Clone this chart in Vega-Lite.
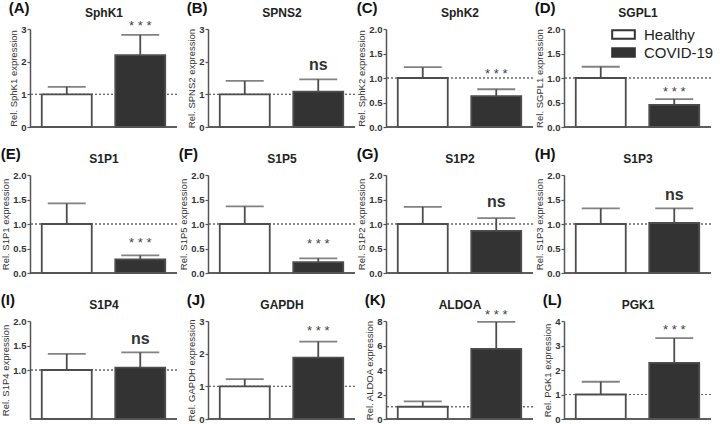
{
"$schema":"https://vega.github.io/schema/vega-lite/v6.json",
"padding":{"left":0,"right":0,"top":1,"bottom":0},
"data":{"values":[
{"panel":"A","group":"Healthy","mean":1,"upper":1.23,"stars":"","ns":""},
{"panel":"A","group":"COVID-19","mean":2.2,"upper":2.82,"stars":"* * *","ns":""},
{"panel":"B","group":"Healthy","mean":1,"upper":1.41,"stars":"","ns":""},
{"panel":"B","group":"COVID-19","mean":1.08,"upper":1.46,"stars":"","ns":"ns"},
{"panel":"C","group":"Healthy","mean":1,"upper":1.22,"stars":"","ns":""},
{"panel":"C","group":"COVID-19","mean":0.63,"upper":0.77,"stars":"* * *","ns":""},
{"panel":"D","group":"Healthy","mean":1,"upper":1.23,"stars":"","ns":""},
{"panel":"D","group":"COVID-19","mean":0.45,"upper":0.57,"stars":"* * *","ns":""},
{"panel":"E","group":"Healthy","mean":1,"upper":1.42,"stars":"","ns":""},
{"panel":"E","group":"COVID-19","mean":0.28,"upper":0.36,"stars":"* * *","ns":""},
{"panel":"F","group":"Healthy","mean":1,"upper":1.36,"stars":"","ns":""},
{"panel":"F","group":"COVID-19","mean":0.22,"upper":0.3,"stars":"* * *","ns":""},
{"panel":"G","group":"Healthy","mean":1,"upper":1.35,"stars":"","ns":""},
{"panel":"G","group":"COVID-19","mean":0.86,"upper":1.12,"stars":"","ns":"ns"},
{"panel":"H","group":"Healthy","mean":1,"upper":1.32,"stars":"","ns":""},
{"panel":"H","group":"COVID-19","mean":1.02,"upper":1.32,"stars":"","ns":"ns"},
{"panel":"I","group":"Healthy","mean":1,"upper":1.33,"stars":"","ns":""},
{"panel":"I","group":"COVID-19","mean":1.05,"upper":1.36,"stars":"","ns":"ns"},
{"panel":"J","group":"Healthy","mean":1,"upper":1.22,"stars":"","ns":""},
{"panel":"J","group":"COVID-19","mean":1.88,"upper":2.37,"stars":"* * *","ns":""},
{"panel":"K","group":"Healthy","mean":1,"upper":1.44,"stars":"","ns":""},
{"panel":"K","group":"COVID-19","mean":5.73,"upper":7.93,"stars":"* * *","ns":""},
{"panel":"L","group":"Healthy","mean":1,"upper":1.52,"stars":"","ns":""},
{"panel":"L","group":"COVID-19","mean":2.29,"upper":3.3,"stars":"* * *","ns":""}
]},
"columns":4,
"spacing":{"row":15,"column":0},
"resolve":{"legend":{"fill":"independent"}},
"concat":[
{"width":147,"height":98,"title":{"text":"(A)"},"transform":[{"filter":"datum.panel==='A'"}],"layer":[
{"mark":{"type":"rule","color":"#666","strokeDash":[2,2],"strokeWidth":1},"encoding":{"y":{"datum":1,"type":"quantitative","axis":{"title":"Rel. SphK1 expression","values":[0,1,2,3],"format":"d"}}}},
{"mark":{"type":"bar","stroke":"#4d4d4d","strokeWidth":1.8},"encoding":{"x":{"field":"group","type":"nominal","sort":["Healthy","COVID-19"],"scale":{"paddingInner":0.32,"paddingOuter":0.16},"axis":{"orient":"top","title":"SphK1"}},"y":{"field":"mean","type":"quantitative","scale":{"domain":[0,3],"nice":false},"axis":{"title":"Rel. SphK1 expression","values":[0,1,2,3],"format":"d"}},"fill":{"field":"group","type":"nominal","scale":{"domain":["Healthy","COVID-19"],"range":["#ffffff","#333333"]},"legend":null}}},
{"mark":{"type":"rule","color":"#4d4d4d","strokeWidth":1.8},"encoding":{"x":{"field":"group","type":"nominal","sort":["Healthy","COVID-19"],"axis":{"orient":"top","title":"SphK1"}},"y":{"field":"mean","type":"quantitative","axis":{"title":"Rel. SphK1 expression","values":[0,1,2,3],"format":"d"}},"y2":{"field":"upper"}}},
{"mark":{"type":"tick","color":"#4d4d4d","thickness":1.8,"size":38},"encoding":{"x":{"field":"group","type":"nominal","sort":["Healthy","COVID-19"],"axis":{"orient":"top","title":"SphK1"}},"y":{"field":"upper","type":"quantitative","axis":{"title":"Rel. SphK1 expression","values":[0,1,2,3],"format":"d"}}}},
{"mark":{"type":"text","fontSize":13,"color":"#444","baseline":"alphabetic","dy":-5},"encoding":{"x":{"field":"group","type":"nominal","sort":["Healthy","COVID-19"],"axis":{"orient":"top","title":"SphK1"}},"y":{"field":"upper","type":"quantitative","axis":{"title":"Rel. SphK1 expression","values":[0,1,2,3],"format":"d"}},"text":{"field":"stars"}}},
{"mark":{"type":"text","fontSize":16,"fontWeight":"bold","color":"#333","baseline":"alphabetic","dy":-9},"encoding":{"x":{"field":"group","type":"nominal","sort":["Healthy","COVID-19"],"axis":{"orient":"top","title":"SphK1"}},"y":{"field":"upper","type":"quantitative","axis":{"title":"Rel. SphK1 expression","values":[0,1,2,3],"format":"d"}},"text":{"field":"ns"}}},
{"mark":{"type":"rule","color":"#555","strokeWidth":1.5},"encoding":{"y":{"datum":0,"type":"quantitative","axis":{"title":"Rel. SphK1 expression","values":[0,1,2,3],"format":"d"}}}}
]},
{"width":147,"height":98,"title":{"text":"(B)"},"transform":[{"filter":"datum.panel==='B'"}],"layer":[
{"mark":{"type":"rule","color":"#666","strokeDash":[2,2],"strokeWidth":1},"encoding":{"y":{"datum":1,"type":"quantitative","axis":{"title":"Rel. SPNS2 expression","values":[0,1,2,3],"format":"d"}}}},
{"mark":{"type":"bar","stroke":"#4d4d4d","strokeWidth":1.8},"encoding":{"x":{"field":"group","type":"nominal","sort":["Healthy","COVID-19"],"scale":{"paddingInner":0.32,"paddingOuter":0.16},"axis":{"orient":"top","title":"SPNS2"}},"y":{"field":"mean","type":"quantitative","scale":{"domain":[0,3],"nice":false},"axis":{"title":"Rel. SPNS2 expression","values":[0,1,2,3],"format":"d"}},"fill":{"field":"group","type":"nominal","scale":{"domain":["Healthy","COVID-19"],"range":["#ffffff","#333333"]},"legend":null}}},
{"mark":{"type":"rule","color":"#4d4d4d","strokeWidth":1.8},"encoding":{"x":{"field":"group","type":"nominal","sort":["Healthy","COVID-19"],"axis":{"orient":"top","title":"SPNS2"}},"y":{"field":"mean","type":"quantitative","axis":{"title":"Rel. SPNS2 expression","values":[0,1,2,3],"format":"d"}},"y2":{"field":"upper"}}},
{"mark":{"type":"tick","color":"#4d4d4d","thickness":1.8,"size":38},"encoding":{"x":{"field":"group","type":"nominal","sort":["Healthy","COVID-19"],"axis":{"orient":"top","title":"SPNS2"}},"y":{"field":"upper","type":"quantitative","axis":{"title":"Rel. SPNS2 expression","values":[0,1,2,3],"format":"d"}}}},
{"mark":{"type":"text","fontSize":13,"color":"#444","baseline":"alphabetic","dy":-5},"encoding":{"x":{"field":"group","type":"nominal","sort":["Healthy","COVID-19"],"axis":{"orient":"top","title":"SPNS2"}},"y":{"field":"upper","type":"quantitative","axis":{"title":"Rel. SPNS2 expression","values":[0,1,2,3],"format":"d"}},"text":{"field":"stars"}}},
{"mark":{"type":"text","fontSize":16,"fontWeight":"bold","color":"#333","baseline":"alphabetic","dy":-9},"encoding":{"x":{"field":"group","type":"nominal","sort":["Healthy","COVID-19"],"axis":{"orient":"top","title":"SPNS2"}},"y":{"field":"upper","type":"quantitative","axis":{"title":"Rel. SPNS2 expression","values":[0,1,2,3],"format":"d"}},"text":{"field":"ns"}}},
{"mark":{"type":"rule","color":"#555","strokeWidth":1.5},"encoding":{"y":{"datum":0,"type":"quantitative","axis":{"title":"Rel. SPNS2 expression","values":[0,1,2,3],"format":"d"}}}}
]},
{"width":147,"height":98,"title":{"text":"(C)"},"transform":[{"filter":"datum.panel==='C'"}],"layer":[
{"mark":{"type":"rule","color":"#666","strokeDash":[2,2],"strokeWidth":1},"encoding":{"y":{"datum":1,"type":"quantitative","axis":{"title":"Rel. SphK2 expression","values":[0,0.5,1,1.5,2],"format":".1f"}}}},
{"mark":{"type":"bar","stroke":"#4d4d4d","strokeWidth":1.8},"encoding":{"x":{"field":"group","type":"nominal","sort":["Healthy","COVID-19"],"scale":{"paddingInner":0.32,"paddingOuter":0.16},"axis":{"orient":"top","title":"SphK2"}},"y":{"field":"mean","type":"quantitative","scale":{"domain":[0,2],"nice":false},"axis":{"title":"Rel. SphK2 expression","values":[0,0.5,1,1.5,2],"format":".1f"}},"fill":{"field":"group","type":"nominal","scale":{"domain":["Healthy","COVID-19"],"range":["#ffffff","#333333"]},"legend":null}}},
{"mark":{"type":"rule","color":"#4d4d4d","strokeWidth":1.8},"encoding":{"x":{"field":"group","type":"nominal","sort":["Healthy","COVID-19"],"axis":{"orient":"top","title":"SphK2"}},"y":{"field":"mean","type":"quantitative","axis":{"title":"Rel. SphK2 expression","values":[0,0.5,1,1.5,2],"format":".1f"}},"y2":{"field":"upper"}}},
{"mark":{"type":"tick","color":"#4d4d4d","thickness":1.8,"size":38},"encoding":{"x":{"field":"group","type":"nominal","sort":["Healthy","COVID-19"],"axis":{"orient":"top","title":"SphK2"}},"y":{"field":"upper","type":"quantitative","axis":{"title":"Rel. SphK2 expression","values":[0,0.5,1,1.5,2],"format":".1f"}}}},
{"mark":{"type":"text","fontSize":13,"color":"#444","baseline":"alphabetic","dy":-11},"encoding":{"x":{"field":"group","type":"nominal","sort":["Healthy","COVID-19"],"axis":{"orient":"top","title":"SphK2"}},"y":{"field":"upper","type":"quantitative","axis":{"title":"Rel. SphK2 expression","values":[0,0.5,1,1.5,2],"format":".1f"}},"text":{"field":"stars"}}},
{"mark":{"type":"text","fontSize":16,"fontWeight":"bold","color":"#333","baseline":"alphabetic","dy":-9},"encoding":{"x":{"field":"group","type":"nominal","sort":["Healthy","COVID-19"],"axis":{"orient":"top","title":"SphK2"}},"y":{"field":"upper","type":"quantitative","axis":{"title":"Rel. SphK2 expression","values":[0,0.5,1,1.5,2],"format":".1f"}},"text":{"field":"ns"}}},
{"mark":{"type":"rule","color":"#555","strokeWidth":1.5},"encoding":{"y":{"datum":0,"type":"quantitative","axis":{"title":"Rel. SphK2 expression","values":[0,0.5,1,1.5,2],"format":".1f"}}}}
]},
{"width":147,"height":98,"title":{"text":"(D)"},"transform":[{"filter":"datum.panel==='D'"}],"layer":[
{"mark":{"type":"rule","color":"#666","strokeDash":[2,2],"strokeWidth":1},"encoding":{"y":{"datum":1,"type":"quantitative","axis":{"title":"Rel. SGPL1 expression","values":[0,0.5,1,1.5,2],"format":".1f"}}}},
{"mark":{"type":"bar","stroke":"#4d4d4d","strokeWidth":1.8},"encoding":{"x":{"field":"group","type":"nominal","sort":["Healthy","COVID-19"],"scale":{"paddingInner":0.32,"paddingOuter":0.16},"axis":{"orient":"top","title":"SGPL1"}},"y":{"field":"mean","type":"quantitative","scale":{"domain":[0,2],"nice":false},"axis":{"title":"Rel. SGPL1 expression","values":[0,0.5,1,1.5,2],"format":".1f"}},"fill":{"field":"group","type":"nominal","scale":{"domain":["Healthy","COVID-19"],"range":["#ffffff","#333333"]},"legend":{"orient":"top-right","title":null,"offset":-3,"padding":0,"symbolType":"M-1.6,-0.6H1.6V0.6H-1.6Z","symbolSize":200,"symbolStrokeColor":"#333","symbolStrokeWidth":2,"labelFontSize":15,"labelColor":"#222","labelOffset":12,"rowPadding":1}}}},
{"mark":{"type":"rule","color":"#4d4d4d","strokeWidth":1.8},"encoding":{"x":{"field":"group","type":"nominal","sort":["Healthy","COVID-19"],"axis":{"orient":"top","title":"SGPL1"}},"y":{"field":"mean","type":"quantitative","axis":{"title":"Rel. SGPL1 expression","values":[0,0.5,1,1.5,2],"format":".1f"}},"y2":{"field":"upper"}}},
{"mark":{"type":"tick","color":"#4d4d4d","thickness":1.8,"size":38},"encoding":{"x":{"field":"group","type":"nominal","sort":["Healthy","COVID-19"],"axis":{"orient":"top","title":"SGPL1"}},"y":{"field":"upper","type":"quantitative","axis":{"title":"Rel. SGPL1 expression","values":[0,0.5,1,1.5,2],"format":".1f"}}}},
{"mark":{"type":"text","fontSize":13,"color":"#444","baseline":"alphabetic","dy":-3},"encoding":{"x":{"field":"group","type":"nominal","sort":["Healthy","COVID-19"],"axis":{"orient":"top","title":"SGPL1"}},"y":{"field":"upper","type":"quantitative","axis":{"title":"Rel. SGPL1 expression","values":[0,0.5,1,1.5,2],"format":".1f"}},"text":{"field":"stars"}}},
{"mark":{"type":"text","fontSize":16,"fontWeight":"bold","color":"#333","baseline":"alphabetic","dy":-9},"encoding":{"x":{"field":"group","type":"nominal","sort":["Healthy","COVID-19"],"axis":{"orient":"top","title":"SGPL1"}},"y":{"field":"upper","type":"quantitative","axis":{"title":"Rel. SGPL1 expression","values":[0,0.5,1,1.5,2],"format":".1f"}},"text":{"field":"ns"}}},
{"mark":{"type":"rule","color":"#555","strokeWidth":1.5},"encoding":{"y":{"datum":0,"type":"quantitative","axis":{"title":"Rel. SGPL1 expression","values":[0,0.5,1,1.5,2],"format":".1f"}}}}
]},
{"width":147,"height":98,"title":{"text":"(E)"},"transform":[{"filter":"datum.panel==='E'"}],"layer":[
{"mark":{"type":"rule","color":"#666","strokeDash":[2,2],"strokeWidth":1},"encoding":{"y":{"datum":1,"type":"quantitative","axis":{"title":"Rel. S1P1 expression","values":[0,0.5,1,1.5,2],"format":".1f"}}}},
{"mark":{"type":"bar","stroke":"#4d4d4d","strokeWidth":1.8},"encoding":{"x":{"field":"group","type":"nominal","sort":["Healthy","COVID-19"],"scale":{"paddingInner":0.32,"paddingOuter":0.16},"axis":{"orient":"top","title":"S1P1"}},"y":{"field":"mean","type":"quantitative","scale":{"domain":[0,2],"nice":false},"axis":{"title":"Rel. S1P1 expression","values":[0,0.5,1,1.5,2],"format":".1f"}},"fill":{"field":"group","type":"nominal","scale":{"domain":["Healthy","COVID-19"],"range":["#ffffff","#333333"]},"legend":null}}},
{"mark":{"type":"rule","color":"#4d4d4d","strokeWidth":1.8},"encoding":{"x":{"field":"group","type":"nominal","sort":["Healthy","COVID-19"],"axis":{"orient":"top","title":"S1P1"}},"y":{"field":"mean","type":"quantitative","axis":{"title":"Rel. S1P1 expression","values":[0,0.5,1,1.5,2],"format":".1f"}},"y2":{"field":"upper"}}},
{"mark":{"type":"tick","color":"#4d4d4d","thickness":1.8,"size":38},"encoding":{"x":{"field":"group","type":"nominal","sort":["Healthy","COVID-19"],"axis":{"orient":"top","title":"S1P1"}},"y":{"field":"upper","type":"quantitative","axis":{"title":"Rel. S1P1 expression","values":[0,0.5,1,1.5,2],"format":".1f"}}}},
{"mark":{"type":"text","fontSize":13,"color":"#444","baseline":"alphabetic","dy":-8},"encoding":{"x":{"field":"group","type":"nominal","sort":["Healthy","COVID-19"],"axis":{"orient":"top","title":"S1P1"}},"y":{"field":"upper","type":"quantitative","axis":{"title":"Rel. S1P1 expression","values":[0,0.5,1,1.5,2],"format":".1f"}},"text":{"field":"stars"}}},
{"mark":{"type":"text","fontSize":16,"fontWeight":"bold","color":"#333","baseline":"alphabetic","dy":-9},"encoding":{"x":{"field":"group","type":"nominal","sort":["Healthy","COVID-19"],"axis":{"orient":"top","title":"S1P1"}},"y":{"field":"upper","type":"quantitative","axis":{"title":"Rel. S1P1 expression","values":[0,0.5,1,1.5,2],"format":".1f"}},"text":{"field":"ns"}}},
{"mark":{"type":"rule","color":"#555","strokeWidth":1.5},"encoding":{"y":{"datum":0,"type":"quantitative","axis":{"title":"Rel. S1P1 expression","values":[0,0.5,1,1.5,2],"format":".1f"}}}}
]},
{"width":147,"height":98,"title":{"text":"(F)"},"transform":[{"filter":"datum.panel==='F'"}],"layer":[
{"mark":{"type":"rule","color":"#666","strokeDash":[2,2],"strokeWidth":1},"encoding":{"y":{"datum":1,"type":"quantitative","axis":{"title":"Rel. S1P5 expression","values":[0,0.5,1,1.5,2],"format":".1f"}}}},
{"mark":{"type":"bar","stroke":"#4d4d4d","strokeWidth":1.8},"encoding":{"x":{"field":"group","type":"nominal","sort":["Healthy","COVID-19"],"scale":{"paddingInner":0.32,"paddingOuter":0.16},"axis":{"orient":"top","title":"S1P5"}},"y":{"field":"mean","type":"quantitative","scale":{"domain":[0,2],"nice":false},"axis":{"title":"Rel. S1P5 expression","values":[0,0.5,1,1.5,2],"format":".1f"}},"fill":{"field":"group","type":"nominal","scale":{"domain":["Healthy","COVID-19"],"range":["#ffffff","#333333"]},"legend":null}}},
{"mark":{"type":"rule","color":"#4d4d4d","strokeWidth":1.8},"encoding":{"x":{"field":"group","type":"nominal","sort":["Healthy","COVID-19"],"axis":{"orient":"top","title":"S1P5"}},"y":{"field":"mean","type":"quantitative","axis":{"title":"Rel. S1P5 expression","values":[0,0.5,1,1.5,2],"format":".1f"}},"y2":{"field":"upper"}}},
{"mark":{"type":"tick","color":"#4d4d4d","thickness":1.8,"size":38},"encoding":{"x":{"field":"group","type":"nominal","sort":["Healthy","COVID-19"],"axis":{"orient":"top","title":"S1P5"}},"y":{"field":"upper","type":"quantitative","axis":{"title":"Rel. S1P5 expression","values":[0,0.5,1,1.5,2],"format":".1f"}}}},
{"mark":{"type":"text","fontSize":13,"color":"#444","baseline":"alphabetic","dy":-10},"encoding":{"x":{"field":"group","type":"nominal","sort":["Healthy","COVID-19"],"axis":{"orient":"top","title":"S1P5"}},"y":{"field":"upper","type":"quantitative","axis":{"title":"Rel. S1P5 expression","values":[0,0.5,1,1.5,2],"format":".1f"}},"text":{"field":"stars"}}},
{"mark":{"type":"text","fontSize":16,"fontWeight":"bold","color":"#333","baseline":"alphabetic","dy":-9},"encoding":{"x":{"field":"group","type":"nominal","sort":["Healthy","COVID-19"],"axis":{"orient":"top","title":"S1P5"}},"y":{"field":"upper","type":"quantitative","axis":{"title":"Rel. S1P5 expression","values":[0,0.5,1,1.5,2],"format":".1f"}},"text":{"field":"ns"}}},
{"mark":{"type":"rule","color":"#555","strokeWidth":1.5},"encoding":{"y":{"datum":0,"type":"quantitative","axis":{"title":"Rel. S1P5 expression","values":[0,0.5,1,1.5,2],"format":".1f"}}}}
]},
{"width":147,"height":98,"title":{"text":"(G)"},"transform":[{"filter":"datum.panel==='G'"}],"layer":[
{"mark":{"type":"rule","color":"#666","strokeDash":[2,2],"strokeWidth":1},"encoding":{"y":{"datum":1,"type":"quantitative","axis":{"title":"Rel. S1P2 expression","values":[0,0.5,1,1.5,2],"format":".1f"}}}},
{"mark":{"type":"bar","stroke":"#4d4d4d","strokeWidth":1.8},"encoding":{"x":{"field":"group","type":"nominal","sort":["Healthy","COVID-19"],"scale":{"paddingInner":0.32,"paddingOuter":0.16},"axis":{"orient":"top","title":"S1P2"}},"y":{"field":"mean","type":"quantitative","scale":{"domain":[0,2],"nice":false},"axis":{"title":"Rel. S1P2 expression","values":[0,0.5,1,1.5,2],"format":".1f"}},"fill":{"field":"group","type":"nominal","scale":{"domain":["Healthy","COVID-19"],"range":["#ffffff","#333333"]},"legend":null}}},
{"mark":{"type":"rule","color":"#4d4d4d","strokeWidth":1.8},"encoding":{"x":{"field":"group","type":"nominal","sort":["Healthy","COVID-19"],"axis":{"orient":"top","title":"S1P2"}},"y":{"field":"mean","type":"quantitative","axis":{"title":"Rel. S1P2 expression","values":[0,0.5,1,1.5,2],"format":".1f"}},"y2":{"field":"upper"}}},
{"mark":{"type":"tick","color":"#4d4d4d","thickness":1.8,"size":38},"encoding":{"x":{"field":"group","type":"nominal","sort":["Healthy","COVID-19"],"axis":{"orient":"top","title":"S1P2"}},"y":{"field":"upper","type":"quantitative","axis":{"title":"Rel. S1P2 expression","values":[0,0.5,1,1.5,2],"format":".1f"}}}},
{"mark":{"type":"text","fontSize":13,"color":"#444","baseline":"alphabetic","dy":-5},"encoding":{"x":{"field":"group","type":"nominal","sort":["Healthy","COVID-19"],"axis":{"orient":"top","title":"S1P2"}},"y":{"field":"upper","type":"quantitative","axis":{"title":"Rel. S1P2 expression","values":[0,0.5,1,1.5,2],"format":".1f"}},"text":{"field":"stars"}}},
{"mark":{"type":"text","fontSize":16,"fontWeight":"bold","color":"#333","baseline":"alphabetic","dy":-11},"encoding":{"x":{"field":"group","type":"nominal","sort":["Healthy","COVID-19"],"axis":{"orient":"top","title":"S1P2"}},"y":{"field":"upper","type":"quantitative","axis":{"title":"Rel. S1P2 expression","values":[0,0.5,1,1.5,2],"format":".1f"}},"text":{"field":"ns"}}},
{"mark":{"type":"rule","color":"#555","strokeWidth":1.5},"encoding":{"y":{"datum":0,"type":"quantitative","axis":{"title":"Rel. S1P2 expression","values":[0,0.5,1,1.5,2],"format":".1f"}}}}
]},
{"width":147,"height":98,"title":{"text":"(H)"},"transform":[{"filter":"datum.panel==='H'"}],"layer":[
{"mark":{"type":"rule","color":"#666","strokeDash":[2,2],"strokeWidth":1},"encoding":{"y":{"datum":1,"type":"quantitative","axis":{"title":"Rel. S1P3 expression","values":[0,0.5,1,1.5,2],"format":".1f"}}}},
{"mark":{"type":"bar","stroke":"#4d4d4d","strokeWidth":1.8},"encoding":{"x":{"field":"group","type":"nominal","sort":["Healthy","COVID-19"],"scale":{"paddingInner":0.32,"paddingOuter":0.16},"axis":{"orient":"top","title":"S1P3"}},"y":{"field":"mean","type":"quantitative","scale":{"domain":[0,2],"nice":false},"axis":{"title":"Rel. S1P3 expression","values":[0,0.5,1,1.5,2],"format":".1f"}},"fill":{"field":"group","type":"nominal","scale":{"domain":["Healthy","COVID-19"],"range":["#ffffff","#333333"]},"legend":null}}},
{"mark":{"type":"rule","color":"#4d4d4d","strokeWidth":1.8},"encoding":{"x":{"field":"group","type":"nominal","sort":["Healthy","COVID-19"],"axis":{"orient":"top","title":"S1P3"}},"y":{"field":"mean","type":"quantitative","axis":{"title":"Rel. S1P3 expression","values":[0,0.5,1,1.5,2],"format":".1f"}},"y2":{"field":"upper"}}},
{"mark":{"type":"tick","color":"#4d4d4d","thickness":1.8,"size":38},"encoding":{"x":{"field":"group","type":"nominal","sort":["Healthy","COVID-19"],"axis":{"orient":"top","title":"S1P3"}},"y":{"field":"upper","type":"quantitative","axis":{"title":"Rel. S1P3 expression","values":[0,0.5,1,1.5,2],"format":".1f"}}}},
{"mark":{"type":"text","fontSize":13,"color":"#444","baseline":"alphabetic","dy":-5},"encoding":{"x":{"field":"group","type":"nominal","sort":["Healthy","COVID-19"],"axis":{"orient":"top","title":"S1P3"}},"y":{"field":"upper","type":"quantitative","axis":{"title":"Rel. S1P3 expression","values":[0,0.5,1,1.5,2],"format":".1f"}},"text":{"field":"stars"}}},
{"mark":{"type":"text","fontSize":16,"fontWeight":"bold","color":"#333","baseline":"alphabetic","dy":-8},"encoding":{"x":{"field":"group","type":"nominal","sort":["Healthy","COVID-19"],"axis":{"orient":"top","title":"S1P3"}},"y":{"field":"upper","type":"quantitative","axis":{"title":"Rel. S1P3 expression","values":[0,0.5,1,1.5,2],"format":".1f"}},"text":{"field":"ns"}}},
{"mark":{"type":"rule","color":"#555","strokeWidth":1.5},"encoding":{"y":{"datum":0,"type":"quantitative","axis":{"title":"Rel. S1P3 expression","values":[0,0.5,1,1.5,2],"format":".1f"}}}}
]},
{"width":147,"height":98,"title":{"text":"(I)"},"transform":[{"filter":"datum.panel==='I'"}],"layer":[
{"mark":{"type":"rule","color":"#666","strokeDash":[2,2],"strokeWidth":1},"encoding":{"y":{"datum":1,"type":"quantitative","axis":{"title":"Rel. S1P4 expression","values":[1,1.5,2],"format":".1f"}}}},
{"mark":{"type":"bar","stroke":"#4d4d4d","strokeWidth":1.8},"encoding":{"x":{"field":"group","type":"nominal","sort":["Healthy","COVID-19"],"scale":{"paddingInner":0.32,"paddingOuter":0.16},"axis":{"orient":"top","title":"S1P4"}},"y":{"field":"mean","type":"quantitative","scale":{"domain":[0,2],"nice":false},"axis":{"title":"Rel. S1P4 expression","values":[1,1.5,2],"format":".1f"}},"fill":{"field":"group","type":"nominal","scale":{"domain":["Healthy","COVID-19"],"range":["#ffffff","#333333"]},"legend":null}}},
{"mark":{"type":"rule","color":"#4d4d4d","strokeWidth":1.8},"encoding":{"x":{"field":"group","type":"nominal","sort":["Healthy","COVID-19"],"axis":{"orient":"top","title":"S1P4"}},"y":{"field":"mean","type":"quantitative","axis":{"title":"Rel. S1P4 expression","values":[1,1.5,2],"format":".1f"}},"y2":{"field":"upper"}}},
{"mark":{"type":"tick","color":"#4d4d4d","thickness":1.8,"size":38},"encoding":{"x":{"field":"group","type":"nominal","sort":["Healthy","COVID-19"],"axis":{"orient":"top","title":"S1P4"}},"y":{"field":"upper","type":"quantitative","axis":{"title":"Rel. S1P4 expression","values":[1,1.5,2],"format":".1f"}}}},
{"mark":{"type":"text","fontSize":13,"color":"#444","baseline":"alphabetic","dy":-5},"encoding":{"x":{"field":"group","type":"nominal","sort":["Healthy","COVID-19"],"axis":{"orient":"top","title":"S1P4"}},"y":{"field":"upper","type":"quantitative","axis":{"title":"Rel. S1P4 expression","values":[1,1.5,2],"format":".1f"}},"text":{"field":"stars"}}},
{"mark":{"type":"text","fontSize":16,"fontWeight":"bold","color":"#333","baseline":"alphabetic","dy":-8},"encoding":{"x":{"field":"group","type":"nominal","sort":["Healthy","COVID-19"],"axis":{"orient":"top","title":"S1P4"}},"y":{"field":"upper","type":"quantitative","axis":{"title":"Rel. S1P4 expression","values":[1,1.5,2],"format":".1f"}},"text":{"field":"ns"}}},
{"mark":{"type":"rule","color":"#555","strokeWidth":1.5},"encoding":{"y":{"datum":0,"type":"quantitative","axis":{"title":"Rel. S1P4 expression","values":[1,1.5,2],"format":".1f"}}}}
]},
{"width":147,"height":98,"title":{"text":"(J)"},"transform":[{"filter":"datum.panel==='J'"}],"layer":[
{"mark":{"type":"rule","color":"#666","strokeDash":[2,2],"strokeWidth":1},"encoding":{"y":{"datum":1,"type":"quantitative","axis":{"title":"Rel. GAPDH expression","values":[0,1,2,3],"format":"d"}}}},
{"mark":{"type":"bar","stroke":"#4d4d4d","strokeWidth":1.8},"encoding":{"x":{"field":"group","type":"nominal","sort":["Healthy","COVID-19"],"scale":{"paddingInner":0.32,"paddingOuter":0.16},"axis":{"orient":"top","title":"GAPDH"}},"y":{"field":"mean","type":"quantitative","scale":{"domain":[0,3],"nice":false},"axis":{"title":"Rel. GAPDH expression","values":[0,1,2,3],"format":"d"}},"fill":{"field":"group","type":"nominal","scale":{"domain":["Healthy","COVID-19"],"range":["#ffffff","#333333"]},"legend":null}}},
{"mark":{"type":"rule","color":"#4d4d4d","strokeWidth":1.8},"encoding":{"x":{"field":"group","type":"nominal","sort":["Healthy","COVID-19"],"axis":{"orient":"top","title":"GAPDH"}},"y":{"field":"mean","type":"quantitative","axis":{"title":"Rel. GAPDH expression","values":[0,1,2,3],"format":"d"}},"y2":{"field":"upper"}}},
{"mark":{"type":"tick","color":"#4d4d4d","thickness":1.8,"size":38},"encoding":{"x":{"field":"group","type":"nominal","sort":["Healthy","COVID-19"],"axis":{"orient":"top","title":"GAPDH"}},"y":{"field":"upper","type":"quantitative","axis":{"title":"Rel. GAPDH expression","values":[0,1,2,3],"format":"d"}}}},
{"mark":{"type":"text","fontSize":13,"color":"#444","baseline":"alphabetic","dy":-7},"encoding":{"x":{"field":"group","type":"nominal","sort":["Healthy","COVID-19"],"axis":{"orient":"top","title":"GAPDH"}},"y":{"field":"upper","type":"quantitative","axis":{"title":"Rel. GAPDH expression","values":[0,1,2,3],"format":"d"}},"text":{"field":"stars"}}},
{"mark":{"type":"text","fontSize":16,"fontWeight":"bold","color":"#333","baseline":"alphabetic","dy":-9},"encoding":{"x":{"field":"group","type":"nominal","sort":["Healthy","COVID-19"],"axis":{"orient":"top","title":"GAPDH"}},"y":{"field":"upper","type":"quantitative","axis":{"title":"Rel. GAPDH expression","values":[0,1,2,3],"format":"d"}},"text":{"field":"ns"}}},
{"mark":{"type":"rule","color":"#555","strokeWidth":1.5},"encoding":{"y":{"datum":0,"type":"quantitative","axis":{"title":"Rel. GAPDH expression","values":[0,1,2,3],"format":"d"}}}}
]},
{"width":147,"height":98,"title":{"text":"(K)"},"transform":[{"filter":"datum.panel==='K'"}],"layer":[
{"mark":{"type":"rule","color":"#666","strokeDash":[2,2],"strokeWidth":1},"encoding":{"y":{"datum":1,"type":"quantitative","axis":{"title":"Rel. ALDOA expression","values":[0,2,4,6,8],"format":"d"}}}},
{"mark":{"type":"bar","stroke":"#4d4d4d","strokeWidth":1.8},"encoding":{"x":{"field":"group","type":"nominal","sort":["Healthy","COVID-19"],"scale":{"paddingInner":0.32,"paddingOuter":0.16},"axis":{"orient":"top","title":"ALDOA"}},"y":{"field":"mean","type":"quantitative","scale":{"domain":[0,8],"nice":false},"axis":{"title":"Rel. ALDOA expression","values":[0,2,4,6,8],"format":"d"}},"fill":{"field":"group","type":"nominal","scale":{"domain":["Healthy","COVID-19"],"range":["#ffffff","#333333"]},"legend":null}}},
{"mark":{"type":"rule","color":"#4d4d4d","strokeWidth":1.8},"encoding":{"x":{"field":"group","type":"nominal","sort":["Healthy","COVID-19"],"axis":{"orient":"top","title":"ALDOA"}},"y":{"field":"mean","type":"quantitative","axis":{"title":"Rel. ALDOA expression","values":[0,2,4,6,8],"format":"d"}},"y2":{"field":"upper"}}},
{"mark":{"type":"tick","color":"#4d4d4d","thickness":1.8,"size":38},"encoding":{"x":{"field":"group","type":"nominal","sort":["Healthy","COVID-19"],"axis":{"orient":"top","title":"ALDOA"}},"y":{"field":"upper","type":"quantitative","axis":{"title":"Rel. ALDOA expression","values":[0,2,4,6,8],"format":"d"}}}},
{"mark":{"type":"text","fontSize":13,"color":"#444","baseline":"alphabetic","dy":-3},"encoding":{"x":{"field":"group","type":"nominal","sort":["Healthy","COVID-19"],"axis":{"orient":"top","title":"ALDOA"}},"y":{"field":"upper","type":"quantitative","axis":{"title":"Rel. ALDOA expression","values":[0,2,4,6,8],"format":"d"}},"text":{"field":"stars"}}},
{"mark":{"type":"text","fontSize":16,"fontWeight":"bold","color":"#333","baseline":"alphabetic","dy":-9},"encoding":{"x":{"field":"group","type":"nominal","sort":["Healthy","COVID-19"],"axis":{"orient":"top","title":"ALDOA"}},"y":{"field":"upper","type":"quantitative","axis":{"title":"Rel. ALDOA expression","values":[0,2,4,6,8],"format":"d"}},"text":{"field":"ns"}}},
{"mark":{"type":"rule","color":"#555","strokeWidth":1.5},"encoding":{"y":{"datum":0,"type":"quantitative","axis":{"title":"Rel. ALDOA expression","values":[0,2,4,6,8],"format":"d"}}}}
]},
{"width":147,"height":98,"title":{"text":"(L)"},"transform":[{"filter":"datum.panel==='L'"}],"layer":[
{"mark":{"type":"rule","color":"#666","strokeDash":[2,2],"strokeWidth":1},"encoding":{"y":{"datum":1,"type":"quantitative","axis":{"title":"Rel. PGK1 expression","values":[0,1,2,3,4],"format":"d"}}}},
{"mark":{"type":"bar","stroke":"#4d4d4d","strokeWidth":1.8},"encoding":{"x":{"field":"group","type":"nominal","sort":["Healthy","COVID-19"],"scale":{"paddingInner":0.32,"paddingOuter":0.16},"axis":{"orient":"top","title":"PGK1"}},"y":{"field":"mean","type":"quantitative","scale":{"domain":[0,4],"nice":false},"axis":{"title":"Rel. PGK1 expression","values":[0,1,2,3,4],"format":"d"}},"fill":{"field":"group","type":"nominal","scale":{"domain":["Healthy","COVID-19"],"range":["#ffffff","#333333"]},"legend":null}}},
{"mark":{"type":"rule","color":"#4d4d4d","strokeWidth":1.8},"encoding":{"x":{"field":"group","type":"nominal","sort":["Healthy","COVID-19"],"axis":{"orient":"top","title":"PGK1"}},"y":{"field":"mean","type":"quantitative","axis":{"title":"Rel. PGK1 expression","values":[0,1,2,3,4],"format":"d"}},"y2":{"field":"upper"}}},
{"mark":{"type":"tick","color":"#4d4d4d","thickness":1.8,"size":38},"encoding":{"x":{"field":"group","type":"nominal","sort":["Healthy","COVID-19"],"axis":{"orient":"top","title":"PGK1"}},"y":{"field":"upper","type":"quantitative","axis":{"title":"Rel. PGK1 expression","values":[0,1,2,3,4],"format":"d"}}}},
{"mark":{"type":"text","fontSize":13,"color":"#444","baseline":"alphabetic","dy":-4},"encoding":{"x":{"field":"group","type":"nominal","sort":["Healthy","COVID-19"],"axis":{"orient":"top","title":"PGK1"}},"y":{"field":"upper","type":"quantitative","axis":{"title":"Rel. PGK1 expression","values":[0,1,2,3,4],"format":"d"}},"text":{"field":"stars"}}},
{"mark":{"type":"text","fontSize":16,"fontWeight":"bold","color":"#333","baseline":"alphabetic","dy":-9},"encoding":{"x":{"field":"group","type":"nominal","sort":["Healthy","COVID-19"],"axis":{"orient":"top","title":"PGK1"}},"y":{"field":"upper","type":"quantitative","axis":{"title":"Rel. PGK1 expression","values":[0,1,2,3,4],"format":"d"}},"text":{"field":"ns"}}},
{"mark":{"type":"rule","color":"#555","strokeWidth":1.5},"encoding":{"y":{"datum":0,"type":"quantitative","axis":{"title":"Rel. PGK1 expression","values":[0,1,2,3,4],"format":"d"}}}}
]}
],
"config":{
"font":"Liberation Sans",
"view":{"stroke":null},
"axis":{"grid":false,"domainColor":"#555","domainWidth":1.5,"tickColor":"#555","tickWidth":1.2,"tickSize":3,"labelFontSize":9.5,"labelFontWeight":"bold","labelColor":"#333","labelPadding":1,"titleFontSize":9.5,"titleFontWeight":"normal","titleColor":"#333","titlePadding":2},
"axisTop":{"labels":false,"ticks":false,"domain":false,"titleFontSize":12,"titleFontWeight":"bold","titleColor":"#222","titlePadding":10},
"title":{"fontSize":15,"fontWeight":"bold","anchor":"start","frame":"bounds","color":"#111","offset":-10}
}
}
